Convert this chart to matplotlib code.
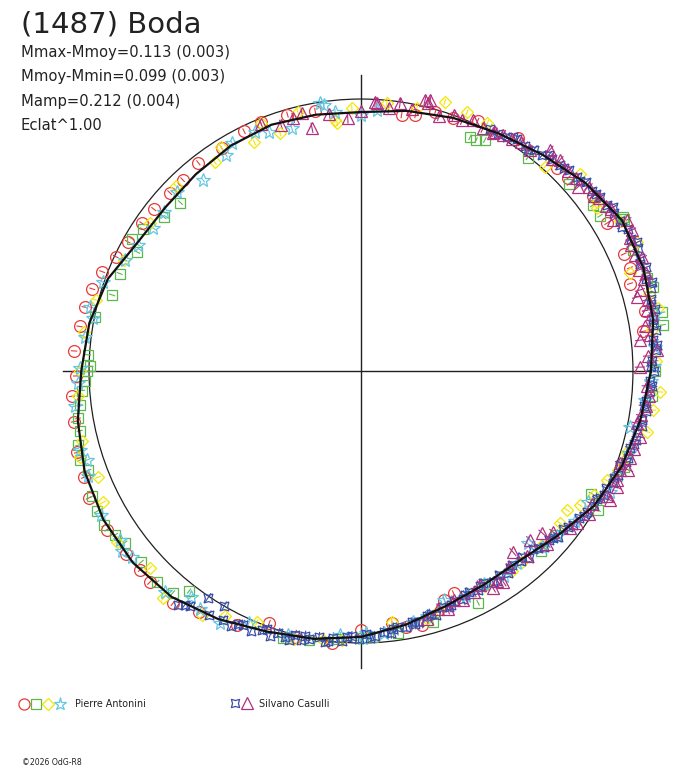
import numpy as np
import matplotlib
matplotlib.use('Agg')
import matplotlib.pyplot as plt
from matplotlib.patches import Circle
from matplotlib.collections import LineCollection

plt.rcParams['font.family'] = ['DejaVu Sans']

title = '(1487) Boda'
info_lines = ['Mmax-Mmoy=0.113 (0.003)', 'Mmoy-Mmin=0.099 (0.003)',
              'Mamp=0.212 (0.004)', 'Eclat^1.00']
copyright_txt = '\u00a92026 OdG-R8'

# reference circle = mean magnitude, radius in magnitude units
R_REF = 1.046

# fitted curve, every 10 degrees (magnitude offset, positive = outward)
fit_angle = np.arange(0, 360, 10)
fit_dmag = [0.069, 0.095, 0.110, 0.113, 0.080, 0.040, 0.010, -0.010, -0.030, -0.050,
            -0.045, -0.038, -0.045, -0.058, -0.065, -0.055, -0.010, 0.015, 0.030, 0.060,
            0.085, 0.098, 0.100, 0.088, 0.055, 0.020, 0.000, -0.023, -0.055, -0.085,
            -0.098, -0.095, -0.060, -0.010, 0.022, 0.045]

# Pierre Antonini - four sessions
red_angle = [8, 12, 18, 21, 24, 31, 37, 43, 46, 56, 65, 70, 74, 78, 81, 100, 106, 112, 116,
             122, 128, 133, 137, 142, 146, 151, 155, 159, 163, 167, 171, 176, 181, 185, 190,
             196, 201, 205, 212, 218, 222, 225, 231, 236, 244, 250, 256, 264, 270, 277, 280,
             283.5, 290, 292.6]
red_dmag = [0.05, 0.07, 0.042, 0.062, 0.06, 0.058, 0.07, 0.045, 0.04, 0.037, 0.016, -0.01,
            -0.01, -0.04, -0.05, -0.03, -0.02, -0.015, -0.02, -0.035, -0.03, -0.04, -0.04,
            -0.035, -0.03, -0.02, -0.005, 0.02, 0.035, 0.045, 0.05, 0.06, 0.05, 0.07, 0.075,
            0.09, 0.095, 0.11, 0.105, 0.1, 0.096, 0.104, 0.104, 0.07, 0.04, -0.015, 0.01,
            0.004, -0.05, -0.07, -0.045, -0.04, -0.11, -0.12]

green_angle = [0, 8.7, 11, 16, 18, 24, 30, 30.4, 33, 35.6, 42, 52, 61.8, 63.5, 65, 137, 142,
               147, 150, 152, 158, 163, 168.5, 176.6, 179, 180, 182, 184, 187, 189.5, 192,
               194.7, 197.6, 200, 205, 208, 211, 213.7, 216, 221, 226, 229.7, 232, 253.7, 259,
               265, 270, 272.6, 278, 286, 296.8, 300, 315, 320, 329.6, 332, 340, 355]
green_dmag = [0.085, 0.128, 0.134, 0.123, 0.11, 0.1, 0.12, 0.123, 0.05, 0.05, 0.031, -0.004,
              -0.038, -0.054, -0.054, -0.096, -0.084, -0.045, -0.03, -0.072, -0.045, -0.045,
              -0.003, 0.006, -0.005, 0.007, 0.016, 0.03, 0.042, 0.058, 0.06, 0.079, 0.088,
              0.07, 0.095, 0.105, 0.107, 0.09, 0.077, 0.074, 0.083, 0.072, 0.028, 0.024, 0.007,
              -0.01, -0.02, -0.022, -0.03, -0.04, -0.047, -0.1, -0.067, -0.065, 0.011, -0.042,
              0.03, 0.077]

yellow_angle = [2, 8, 12, 15, 20, 25, 30, 34.6, 35.6, 42, 48, 63, 67.7, 72.7, 78, 84.5, 92,
                95.5, 96, 103.7, 108.8, 112, 115, 122, 125, 135, 145, 155, 165, 172, 180, 185,
                194, 197, 202, 207, 215, 223, 229, 237, 241, 247.5, 256, 262, 266, 277, 285,
                288, 300, 307, 310, 316, 322.6, 326, 328.5, 332, 336, 339, 342, 343, 348,
                352.4, 356]
yellow_dmag = [0.09, 0.083, 0.122, 0.1, 0.057, 0.126, 0.105, 0.057, 0.07, 0.088, 0.01, 0.025,
               0.03, 0.038, -0.01, -0.01, -0.034, -0.088, -0.076, -0.02, -0.08, -0.016, -0.076,
               -0.031, -0.065, -0.04, -0.055, -0.04, 0.01, 0.03, 0.035, 0.045, 0.061, 0.085,
               0.045, 0.068, 0.1, 0.065, 0.112, 0.074, 0.031, 0.0, 0.015, 0.0, -0.008, -0.073,
               -0.06, -0.08, -0.09, -0.083, -0.085, -0.08, -0.083, -0.09, -0.059, -0.03, -0.011,
               0.013, 0.03, 0.025, 0.08, 0.087, 0.107]

cyan_angle = [1, 4.7, 11, 86.5, 90, 95.7, 98, 98.7, 105.9, 111, 114, 119.5, 122, 129.6, 135.8,
              141, 145.5, 150.5, 154.8, 161, 166.7, 168.8, 173, 179.4, 182.4, 187, 195.7, 198,
              201, 209, 215, 217, 219, 228.4, 233, 236, 240.8, 246, 254.5, 265.5, 270.5, 271,
              275, 281.7, 285, 290, 295, 300, 305, 309, 314, 315.8, 320, 325, 330, 334, 338,
              343, 348.3, 354.2, 358]
cyan_dmag = [0.08, 0.089, 0.107, -0.04, -0.06, -0.045, -0.012, -0.004, -0.074, -0.063, -0.04,
             -0.038, -0.065, -0.092, -0.058, -0.073, -0.077, -0.06, -0.042, 0.002, 0.024, 0.004,
             0.025, 0.035, 0.043, 0.063, 0.076, 0.064, 0.08, 0.098, 0.086, 0.107, 0.088, 0.09,
             0.04, 0.058, 0.064, 0.013, 0.008, -0.028, -0.02, -0.04, -0.035, -0.06, -0.07,
             -0.108, -0.09, -0.1, -0.085, -0.095, -0.124, -0.077, -0.06, -0.04, -0.04, 0.02,
             0.02, 0.03, 0.01, 0.05, 0.07]

# Silvano Casulli - two sessions
blue_angle = [232, 233, 234, 236, 238, 239.8, 241, 243, 244, 245, 247, 249, 250, 251, 252.5,
              254, 255, 256, 257.5, 258, 259, 261, 262.5, 263, 264, 266, 267, 268, 269.5, 271,
              272, 273, 275, 276.5, 277, 278, 280, 281.5, 282, 283, 285, 286, 287, 289, 290.5,
              291, 292, 294, 295, 296, 298, 299, 300, 302, 303, 304, 306, 307, 308, 310, 311,
              312, 314, 315, 316, 318, 319, 320, 322, 323, 324, 326, 327, 328, 330, 331.5, 332,
              333, 334.5, 336, 337, 338, 340, 341, 342, 344, 345, 346, 348, 349, 350, 352, 353,
              354, 356, 357, 358, 0, 1, 2, 4, 5, 6, 8, 9, 10, 12, 13, 14, 16, 17, 18, 20, 21,
              22, 24, 25, 26, 28, 29, 30, 32, 33, 34, 36, 37, 38, 40, 41, 42, 44, 45, 46, 48,
              49, 50, 52, 53, 54, 56, 57, 58, 60, 62]
blue_dmag = [0.095, 0.08, 0.07, 0.005, 0.06, 0.0, 0.05, 0.055, 0.035, 0.03, 0.04, 0.02, 0.01,
             0.03, 0.01, 0.02, 0.025, 0.0, 0.015, -0.005, 0.005, -0.01, 0.005, 0.0, -0.015,
             -0.005, -0.02, -0.025, -0.015, -0.035, -0.02, -0.025, -0.04, -0.03, -0.045, -0.05,
             -0.045, -0.06, -0.05, -0.055, -0.07, -0.075, -0.065, -0.085, -0.075, -0.08, -0.09,
             -0.085, -0.095, -0.1, -0.09, -0.1, -0.105, -0.09, -0.085, -0.1, -0.085, -0.095,
             -0.1, -0.09, -0.1, -0.08, -0.095, -0.085, -0.07, -0.075, -0.065, -0.055, -0.06,
             -0.05, -0.04, -0.035, -0.025, -0.02, -0.01, -0.015, -0.005, 0.005, 0.0, 0.015,
             0.01, 0.02, 0.015, 0.03, 0.035, 0.03, 0.04, 0.045, 0.04, 0.055, 0.05, 0.06, 0.05,
             0.055, 0.07, 0.075, 0.065, 0.08, 0.07, 0.075, 0.09, 0.095, 0.085, 0.1, 0.09, 0.095,
             0.11, 0.1, 0.105, 0.115, 0.125, 0.105, 0.12, 0.105, 0.11, 0.12, 0.125, 0.11, 0.115,
             0.1, 0.105, 0.1, 0.11, 0.095, 0.09, 0.085, 0.08, 0.085, 0.07, 0.07, 0.065, 0.06,
             0.055, 0.05, 0.055, 0.04, 0.035, 0.02, 0.025, 0.03, 0.025, 0.015, 0.005, 0.01]

magenta_angle = [0.8, 3, 4, 6.3, 7, 9, 11, 12, 14, 15, 16.2, 18, 19, 20, 22, 23, 25, 26.3,
                 27.5, 29.6, 31, 33, 34, 36, 37, 39, 40.3, 42, 44, 46.7, 48, 49.5, 52.6, 55, 57,
                 59, 60.7, 61, 63.3, 66, 68, 70, 73, 75.7, 76, 76.7, 79, 81.7, 84, 86.6, 87, 90,
                 93, 97, 101.4, 102.9, 105, 108, 112, 285, 288, 290, 292, 294, 297, 299, 301.3,
                 303, 304, 307, 310, 312, 315, 317, 318.2, 320, 323, 325, 328, 330, 332.6, 333,
                 335.6, 337, 339, 339.7, 340.4, 342, 344, 346.7, 349.3, 351, 353, 355, 357]
magenta_dmag = [0.027, 0.06, 0.096, 0.034, 0.075, 0.06, 0.095, 0.08, 0.09, 0.053, 0.071, 0.1,
                0.115, 0.09, 0.12, 0.1, 0.1, 0.108, 0.127, 0.13, 0.085, 0.1, 0.09, 0.085, 0.075,
                0.08, 0.05, 0.065, 0.06, 0.069, 0.05, 0.073, 0.023, 0.03, 0.02, 0.015, 0.007,
                0.0, 0.0, 0.01, -0.005, 0.0, -0.02, 0.03, 0.015, 0.025, -0.02, -0.005, -0.03,
                -0.014, -0.01, -0.045, -0.073, -0.05, -0.092, -0.027, -0.038, -0.05, -0.02,
                -0.06, -0.085, -0.07, -0.095, -0.08, -0.09, -0.105, -0.069, -0.085, -0.067,
                -0.1, -0.137, -0.09, -0.127, -0.07, -0.11, -0.08, -0.041, -0.03, -0.01, -0.02,
                0.031, 0.017, 0.034, 0.025, 0.02, 0.05, 0.011, 0.04, 0.045, 0.057, 0.034, 0.045,
                0.06, 0.065, 0.055]

pierre_err = 0.012
silvano_err = 0.02


def to_xy(angle_deg, dmag):
    a = np.radians(np.asarray(angle_deg, dtype=float))
    r = R_REF + np.asarray(dmag, dtype=float)
    return r * np.cos(a), r * np.sin(a)


def err_segments(angle_deg, dmag, err):
    a = np.radians(np.asarray(angle_deg, dtype=float))
    r = R_REF + np.asarray(dmag, dtype=float)
    r0, r1 = r - err, r + err
    return [[(p * np.cos(t), p * np.sin(t)), (q * np.cos(t), q * np.sin(t))]
            for t, p, q in zip(a, r0, r1)]


W, H = 688, 768
fig = plt.figure(figsize=(W / 100, H / 100), dpi=100)
ax = fig.add_axes([0, 0, 1, 1])
scale = 260.0  # px per magnitude unit
cx, cy = 361, 371
ax.set_xlim(-cx / scale, (W - cx) / scale)
ax.set_ylim(-(H - cy) / scale, cy / scale)
ax.axis('off')

# axes cross and reference circle
ax.plot([-1.146, 1.146], [0, 0], color='#202020', lw=1.0, zorder=1)
ax.plot([0, 0], [-1.142, 1.138], color='#202020', lw=1.0, zorder=1)
ax.add_patch(Circle((0, 0), R_REF, fill=False, ec='#202020', lw=0.9, zorder=1))

series = [
    (red_angle, red_dmag, 'o', 8.5, '#e83a3a', pierre_err),
    (green_angle, green_dmag, 's', 7.0, '#5cb84c', pierre_err),
    (yellow_angle, yellow_dmag, 'D', 6.5, '#f2e600', pierre_err),
    (cyan_angle, cyan_dmag, '*', 10.0, '#62c6e2', pierre_err),
    (blue_angle, blue_dmag, (4, 1, 45), 9.0, '#3a4ea8', silvano_err),
    (magenta_angle, magenta_dmag, '^', 8.5, '#b0307e', silvano_err),
]

for ang, dm, mk, ms, col, err in series:
    x, y = to_xy(ang, dm)
    ax.add_collection(LineCollection(err_segments(ang, dm, err), colors=col, lw=0.8, zorder=2))
    ax.plot(x, y, ls='none', marker=mk, ms=ms, mfc='none', mec=col, mew=0.9, zorder=3)

# fitted curve
fx, fy = to_xy(list(fit_angle) + [360], fit_dmag + [fit_dmag[0]])
ax.plot(fx, fy, color='#111111', lw=1.6, zorder=4)

# texts
def ftext(x, y, s, **kw):
    fig.text(x / W, 1 - y / H, s, va='baseline', ha='left', color='#222222', **kw)

ftext(21, 33, title, fontsize=21)
for i, line in enumerate(info_lines):
    ftext(21, 57 + i * 24.5, line, fontsize=10.6)

# legend
leg_y = 1 - 704 / H
pierre_marks = [('o', 8, '#e83a3a', 24), ('s', 6.5, '#5cb84c', 36),
                ('D', 6, '#f2e600', 48), ('*', 9.5, '#62c6e2', 60)]
for mk, ms, col, px in pierre_marks:
    ax.plot([px / W], [leg_y], transform=fig.transFigure, marker=mk, ms=ms, mfc='none',
            mec=col, mew=0.9, clip_on=False)
ftext(75, 707, 'Pierre Antonini', fontsize=6.9)
silvano_marks = [((4, 1, 45), 8.5, '#3a4ea8', 235), ('^', 8, '#b0307e', 247)]
for mk, ms, col, px in silvano_marks:
    ax.plot([px / W], [1 - 703 / H], transform=fig.transFigure, marker=mk, ms=ms, mfc='none',
            mec=col, mew=0.9, clip_on=False)
ftext(259, 707, 'Silvano Casulli', fontsize=6.9)

ftext(22, 765, copyright_txt, fontsize=5.6)

fig.savefig('out.png', dpi=100, facecolor='white')
